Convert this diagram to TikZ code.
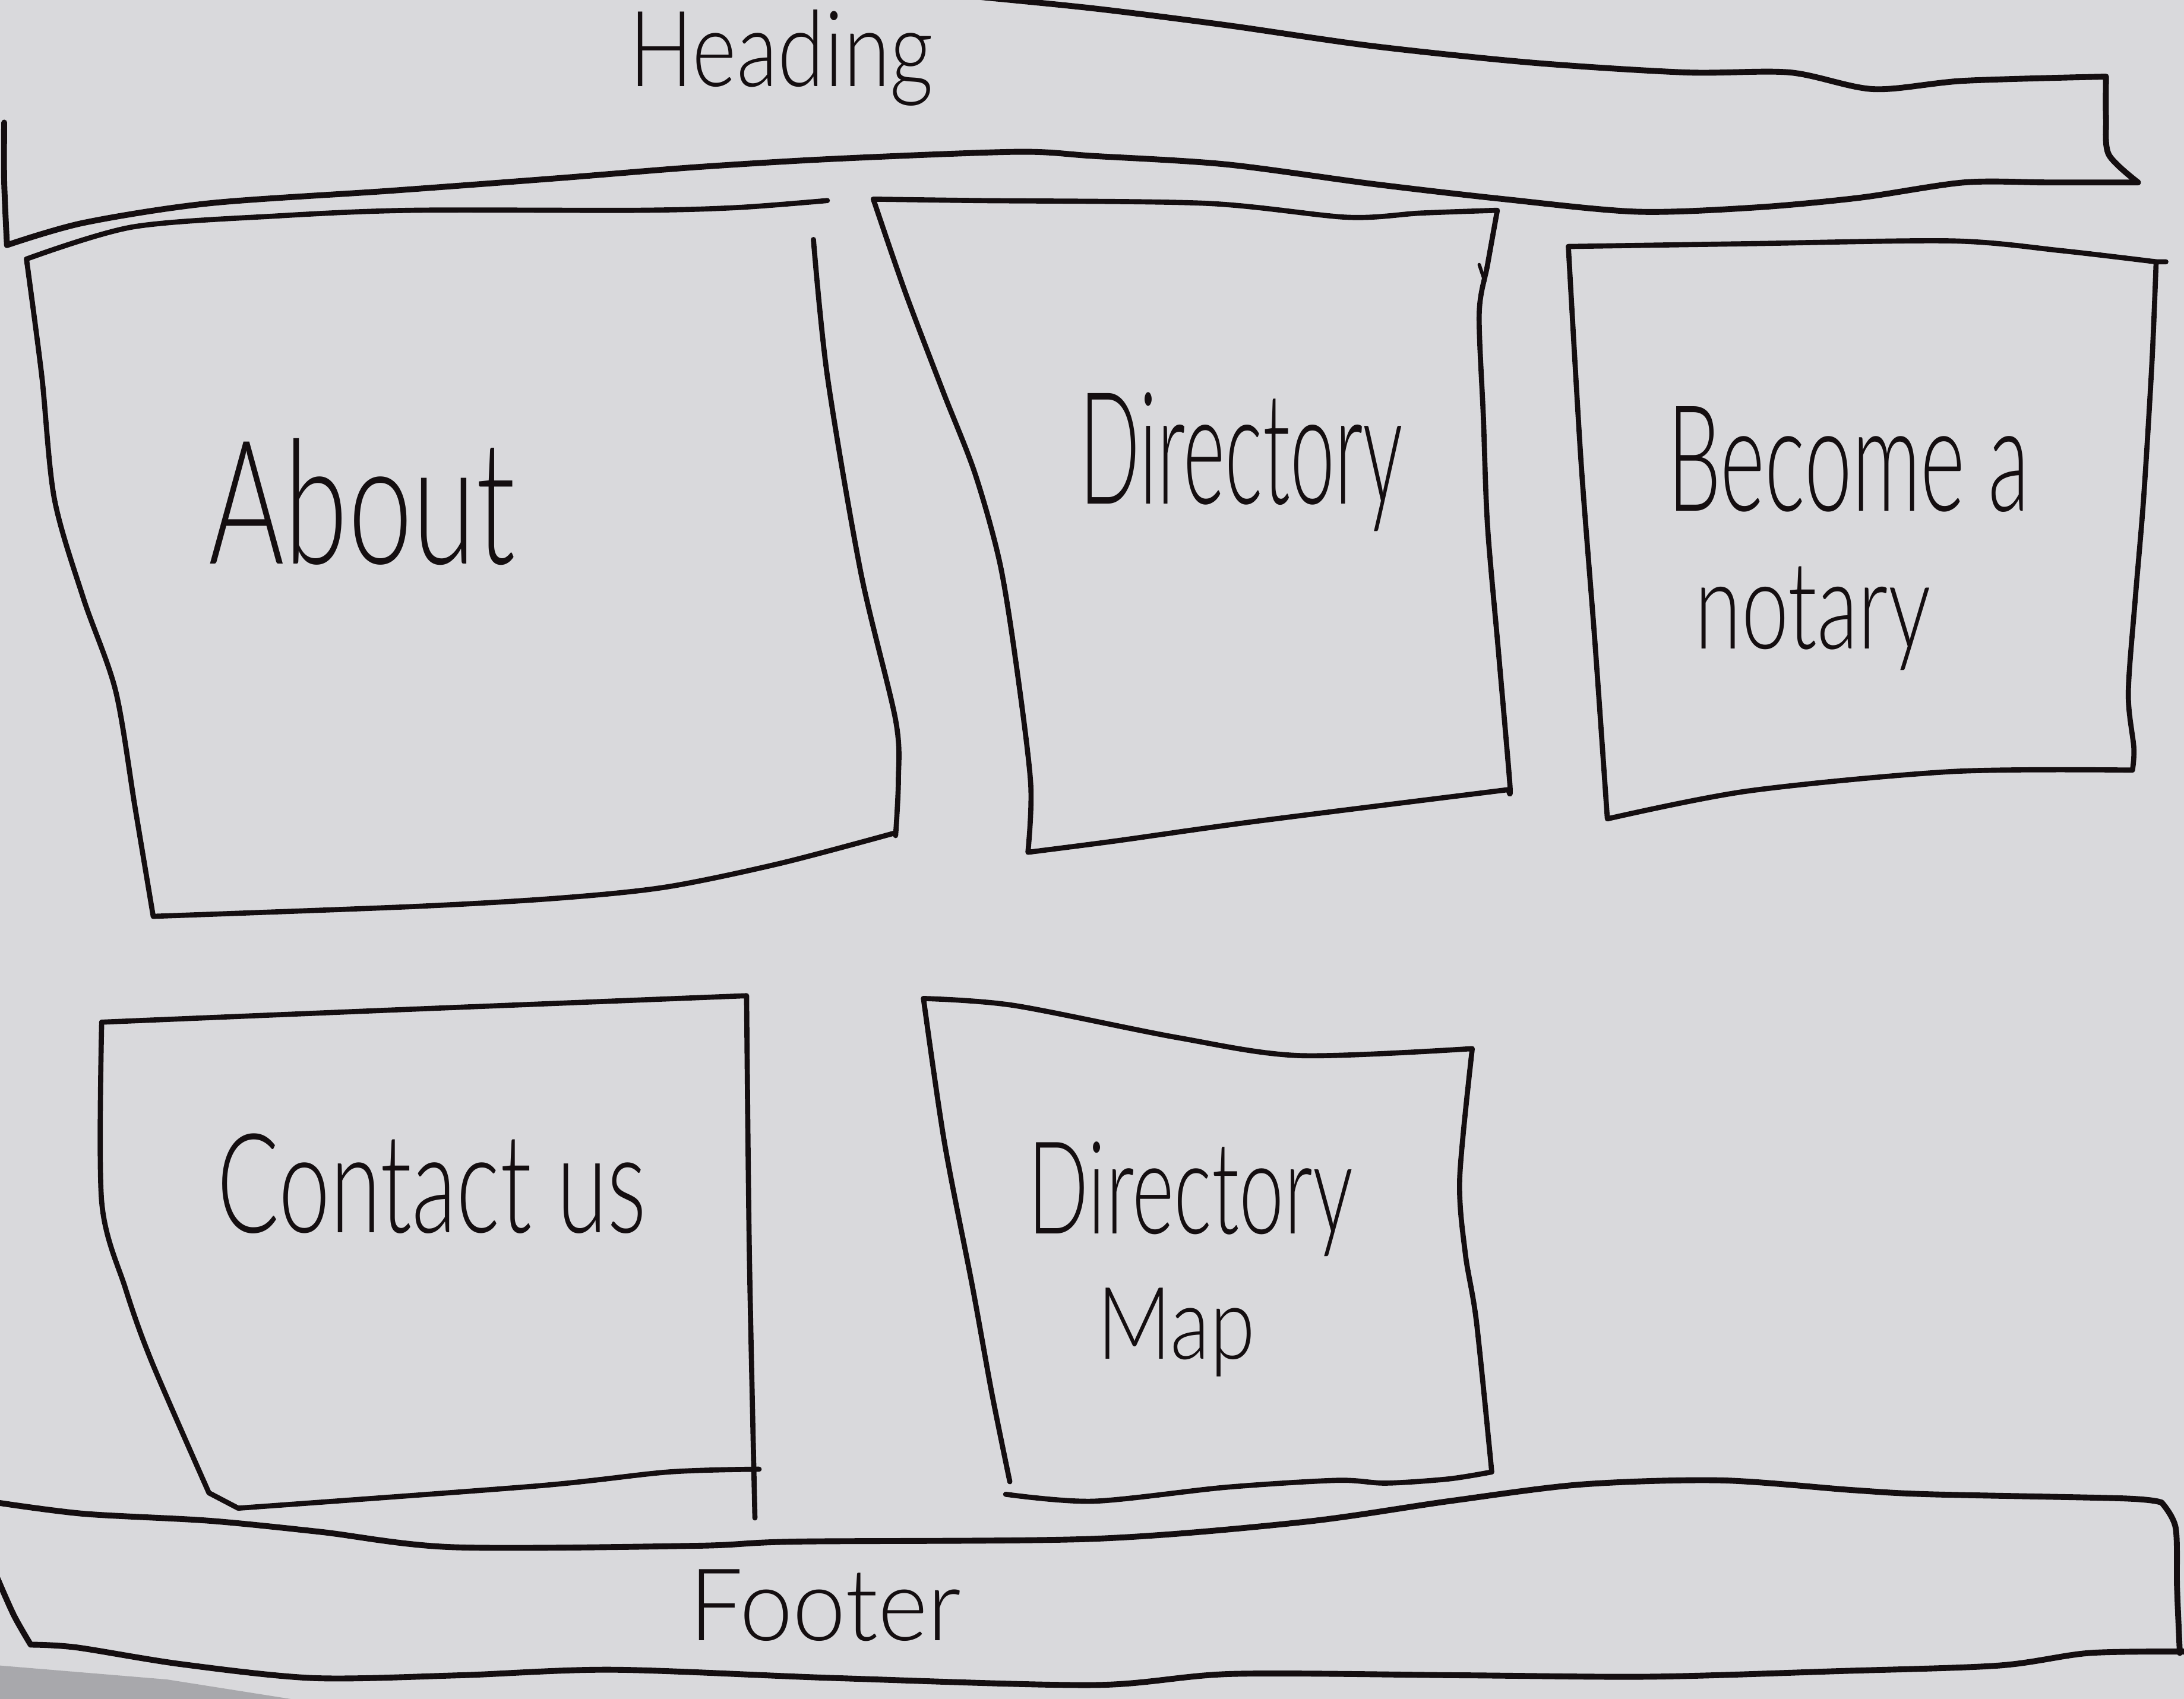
\documentclass[tikz,border=0pt]{standalone}
\usepackage{fontspec}
\usepackage{graphicx}
\newfontfamily\handfont{Lato Light}
\definecolor{paper}{RGB}{217,217,220}
\definecolor{paperedge}{RGB}{168,168,172}
\definecolor{ink}{RGB}{20,14,16}
% text squeezed to a given width and height, like the hand lettering
\newcommand{\sized}[3]{\resizebox{#1}{#2}{\handfont #3}}

\begin{document}
\begin{tikzpicture}[x=0.01cm,y=-0.01cm,
  stroke/.style={draw=ink,line width=1.05pt,line cap=round,line join=round},
  band/.style={stroke,line width=1.2pt},
  label/.style={inner sep=0pt,outer sep=0pt,anchor=base west,text=ink}]
\useasboundingbox (0,0) rectangle (1568,1220);
\fill[paper] (0,0) rectangle (1568,1220);
\fill[paperedge] (0,1196) -- (120,1206) -- (215,1221) -- (0,1221) -- cycle;

% ---- heading band ----
\draw[band] plot[smooth,tension=0.5] coordinates {(695,-3) (785,6) (880,18) (985,33) (1100,45) (1210,52) (1285,52) (1345,64) (1410,58) (1512,55)}
  -- plot[smooth,tension=0.5] coordinates {(1512,55) (1512,85) (1514,111) (1535,131)}
  -- plot[smooth,tension=0.5] coordinates {(1535,131) (1470,131) (1410,131) (1335,142) (1260,149) (1175,152) (1080,143) (985,132) (880,118) (785,112) (730,109) (600,114) (500,120) (400,128) (280,137) (150,146) (60,160) (5,176)}
  -- plot[smooth,tension=0.5] coordinates {(5,176) (3,130) (3,88)};

% ---- About ----
\draw[stroke] plot[smooth,tension=0.5] coordinates {(19,186) (95,163) (200,155) (296,151) (458,151) (530,149) (594,144)};
\draw[stroke] plot[smooth,tension=0.5] coordinates {(19,186) (30,270) (39,358) (60,430) (83,496) (97,580) (110,658)}
  -- plot[smooth,tension=0.5] coordinates {(110,658) (296,651) (400,645) (478,637) (560,620) (643,598)};
\draw[stroke] plot[smooth,tension=0.5] coordinates {(584,172) (594,270) (618,411) (643,517) (645,560) (643,600)};

% ---- Directory ----
\draw[stroke] plot[smooth,tension=0.5] coordinates {(627,143) (700,144) (866,146) (967,156) (1020,153) (1075,151)}
  -- plot[smooth,tension=0.5] coordinates {(1075,151) (1068,190) (1062,225) (1065,300) (1068,378) (1076,470) (1084,563) (1083,567)}
  -- plot[smooth,tension=0.5] coordinates {(1083,567) (900,590) (800,604) (738,612)}
  -- plot[smooth,tension=0.5] coordinates {(738,612) (740,563) (730,480) (718,405) (700,340) (677,281) (650,210) (627,143)};
\draw[stroke,line width=0.7pt] (1062,190) -- (1066,202);

% ---- Become a notary ----
\draw[stroke] plot[smooth,tension=0.5] coordinates {(1126,177) (1255,175) (1402,173) (1480,180) (1548,188)}
  -- (1555,188);
\draw[stroke] plot[smooth,tension=0.5] coordinates {(1548,188) (1545,260) (1539,358) (1533,430) (1528,498) (1532,537) (1531,553)}
  -- plot[smooth,tension=0.5] coordinates {(1531,553) (1402,554) (1255,568) (1154,588)}
  -- plot[smooth,tension=0.5] coordinates {(1154,588) (1145,460) (1135,330) (1126,177)};

% ---- Contact us ----
\draw[stroke] plot[smooth,tension=0.5] coordinates {(73,734) (288,725) (536,715)}
  -- plot[smooth,tension=0.5] coordinates {(536,715) (538,900) (542,1090)};
\draw[stroke] plot[smooth,tension=0.5] coordinates {(73,734) (73,863) (90,925) (109,978) (150,1072)}
  -- (171,1083)
  -- plot[smooth,tension=0.5] coordinates {(171,1083) (386,1067) (480,1057) (545,1055)};

% ---- Directory Map ----
\draw[stroke] plot[smooth,tension=0.5] coordinates {(663,717) (728,722) (845,745) (933,758) (1057,753)}
  -- plot[smooth,tension=0.5] coordinates {(1057,753) (1048,846) (1052,900) (1060,949) (1071,1057)}
  -- plot[smooth,tension=0.5] coordinates {(1071,1057) (1040,1062) (995,1065) (960,1063) (880,1068) (785,1078) (722,1073)};
\draw[stroke] plot[smooth,tension=0.5] coordinates {(663,717) (678,820) (698,923) (712,1000) (725,1064)};

% ---- footer band ----
\draw[band] plot[smooth,tension=0.5] coordinates {(-2,1079) (60,1087) (150,1092) (230,1100) (325,1111) (500,1110) (571,1107) (785,1105) (935,1093) (1040,1078) (1135,1066) (1235,1063) (1330,1070) (1385,1073) (1525,1076) (1552,1079)}
  -- plot[smooth,tension=0.5] coordinates {(1552,1079) (1562,1097) (1563,1140) (1565,1187)};
\draw[band] plot[smooth,tension=0.5] coordinates {(-2,1133) (10,1160) (22,1181)}
  -- plot[smooth,tension=0.5] coordinates {(22,1181) (55,1183) (130,1195) (225,1205) (330,1203) (440,1199) (600,1205) (785,1210) (885,1202) (1050,1203) (1185,1204) (1320,1200) (1435,1196) (1500,1187) (1570,1186)};

% ---- labels ----
\node[label] (heading)  at (452,62)   {\sized{2.18cm}{0.55cm}{Heading}};
\node[label] (about)    at (150,405)  {\sized{2.2cm}{0.9cm}{About}};
\node[label] (dir)      at (775,362)  {\sized{2.32cm}{0.8cm}{Directory}};
\node[label] (become)   at (1197,367) {\sized{2.6cm}{0.75cm}{Become a}};
\node[label] (notary)   at (1217,466) {\sized{1.69cm}{0.59cm}{notary}};
\node[label] (contact)  at (156,885)  {\sized{3.08cm}{0.71cm}{Contact us}};
\node[label] (dirmap)   at (738,886)  {\sized{2.33cm}{0.66cm}{Directory}};
\node[label] (map)      at (788,976)  {\sized{1.13cm}{0.51cm}{Map}};
\node[label] (footer)   at (495,1178) {\sized{1.95cm}{0.51cm}{Footer}};
\end{tikzpicture}
\end{document}
